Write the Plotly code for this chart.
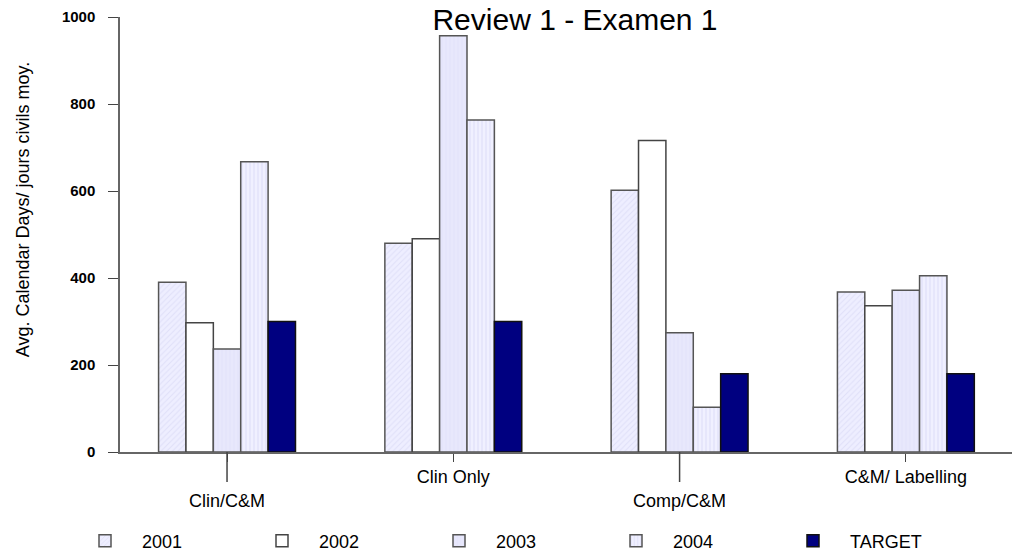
import plotly.graph_objects as go

categories = ["Clin/C&M", "Clin Only", "Comp/C&M", "C&M/ Labelling"]
series_names = ["2001", "2002", "2003", "2004", "TARGET"]
values_2001 = [390, 480, 602, 368]
values_2002 = [297, 490, 716, 336]
values_2003 = [237, 957, 274, 372]
values_2004 = [667, 763, 103, 405]
values_target = [300, 300, 180, 180]

series_values = [values_2001, values_2002, values_2003, values_2004, values_target]

# labels alternate between a near row and a lower row (long leader ticks)
low_row = [True, False, True, False]
tick_text = [("<br>" + c) if low else c for c, low in zip(categories, low_row)]

# fill styling per series: (bgcolor, pattern shape, pattern colour, outline)
styles = [
    ("#eeeeff", "/", "#cfcff0", "#555555"),
    ("#ffffff", "", "#ffffff", "#444444"),
    ("#e8e8fc", "|", "#dcdcf6", "#555555"),
    ("#f0f0ff", "|", "#c8c8ee", "#555555"),
    ("#000080", "", "#000080", "#111111"),
]

fig = go.Figure()

for name, vals, (bg, shape, fg, edge) in zip(series_names, series_values, styles):
    pattern = {"shape": shape, "fgcolor": fg, "bgcolor": bg, "size": 4, "solidity": 0.25}
    fig.add_trace(
        go.Bar(
            x=categories,
            y=vals,
            name=name,
            marker={"color": bg, "pattern": pattern, "line": {"color": edge, "width": 1.5}},
        )
    )

# long leader ticks for the lower label row
for cat, low in zip(categories, low_row):
    if low:
        fig.add_shape(
            type="line", xref="x", yref="paper", x0=cat, x1=cat, y0=0, y1=-0.069,
            line={"color": "#444444", "width": 1.5},
        )

fig.add_annotation(
    text="Avg. Calendar Days/ jours civils moy.",
    xref="paper", yref="paper", x=-0.1087, y=0.556,
    xanchor="center", yanchor="middle", textangle=-90, showarrow=False,
    font={"size": 18, "color": "#000000"},
)

fig.update_layout(
    width=1012,
    height=554,
    margin={"l": 120, "r": 0, "t": 17, "b": 102, "autoexpand": False},
    paper_bgcolor="white",
    plot_bgcolor="white",
    barmode="group",
    bargap=0.395,
    bargroupgap=0,
    font={"family": "Liberation Sans, Arial, sans-serif", "color": "#000000"},
    title={
        "text": "Review 1 - Examen 1",
        "x": 575 / 1012,
        "xref": "container",
        "xanchor": "center",
        "y": 1 - 19 / 554,
        "yref": "container",
        "yanchor": "middle",
        "font": {"size": 30, "color": "#000000"},
    },
    legend={
        "orientation": "h",
        "xref": "container",
        "yref": "container",
        "x": 68 / 1012,
        "y": 1 - 541 / 554,
        "xanchor": "left",
        "yanchor": "middle",
        "itemwidth": 64,
        "entrywidth": 98,
        "entrywidthmode": "pixels",
        "font": {"size": 18},
        "traceorder": "normal",
    },
)

fig.update_xaxes(
    range=[-0.473, 3.469],
    tickvals=categories,
    ticktext=tick_text,
    automargin=False,
    showline=True,
    linecolor="#666666",
    linewidth=1.5,
    ticks="outside",
    ticklen=8,
    tickcolor="#444444",
    tickfont={"size": 18},
    showgrid=False,
)

fig.update_yaxes(
    range=[0, 1000],
    tickvals=[0, 200, 400, 600, 800, 1000],
    automargin=False,
    showline=True,
    linecolor="#666666",
    linewidth=1.5,
    ticks="outside",
    ticklen=10,
    tickcolor="#444444",
    tickfont={"size": 15, "weight": "bold"},
    ticklabelstandoff=10,
    showgrid=False,
    zeroline=False,
)

# page body margin would otherwise offset the figure inside the window
fig.write_html(
    "out.html",
    config={"displayModeBar": False},
    post_script="document.body.style.margin = '0';",
)
